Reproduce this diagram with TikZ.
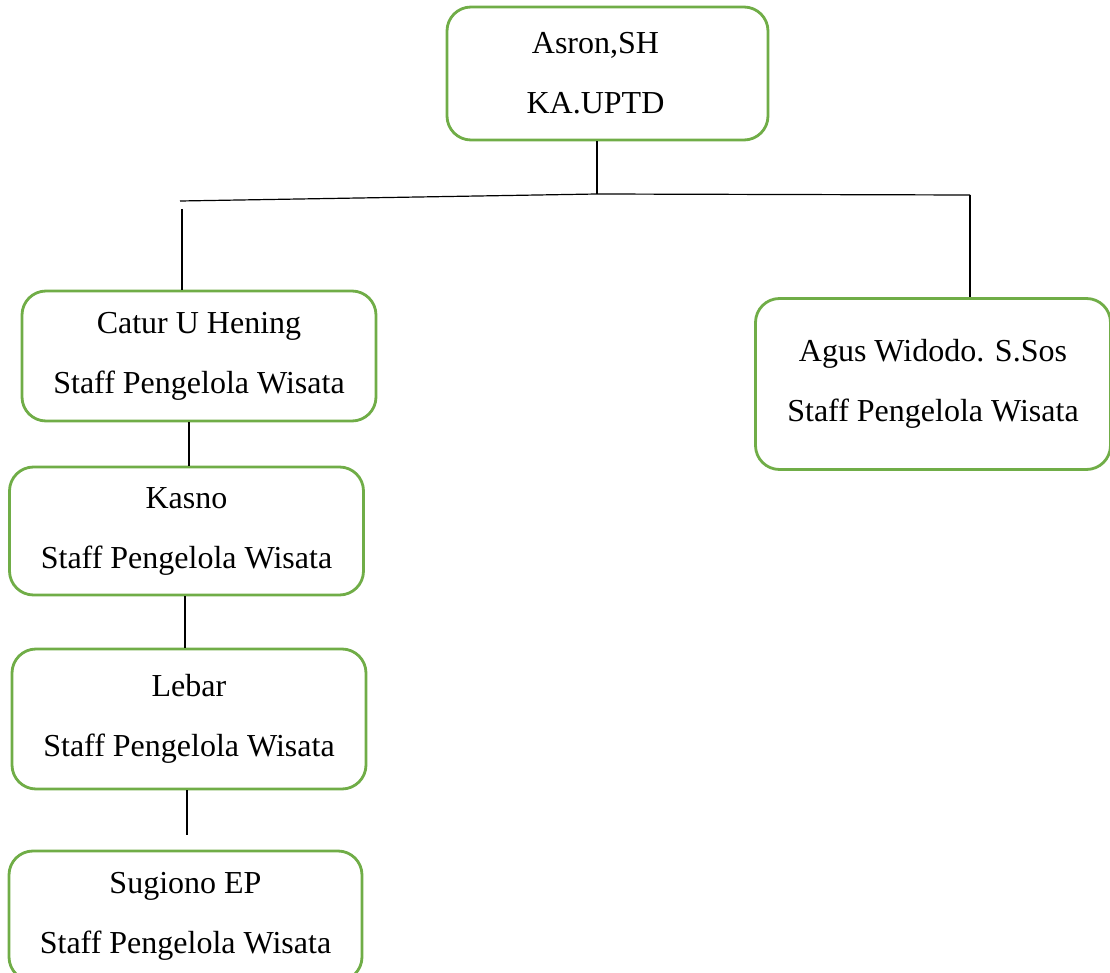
\documentclass[tikz,border=0pt]{standalone}
\usepackage{fontspec}
\setmainfont{Liberation Serif}
\definecolor{hijau}{HTML}{70AD47}
\begin{document}
\begin{tikzpicture}[x=.5pt, y=-.5pt,
	kotak/.style={draw=hijau, line width=1.4pt, rounded corners=12pt, align=center, inner sep=0pt, font=\fontsize{16}{30}\selectfont},
	garis/.style={line width=.6pt}]
\useasboundingbox (0,0) rectangle (1110,973);

\node [kotak, minimum width=160.5pt, minimum height=66.5pt] (kepala) at (607.5,73.5) {Asron,SH\hspace*{12pt}\\KA.UPTD\hspace*{12pt}};
\node [kotak, minimum width=177pt, minimum height=65pt] (catur) at (199,356) {Catur U Hening\\Staff Pengelola Wisata};
\node [kotak, minimum width=177.5pt, minimum height=85.5pt] (agus) at (933,384) {Agus Widodo. S.Sos\\Staff Pengelola Wisata};
\node [kotak, minimum width=177pt, minimum height=64pt] (kasno) at (186.5,531) {Kasno\\Staff Pengelola Wisata};
\node [kotak, minimum width=177pt, minimum height=70pt] (lebar) at (189,719) {Lebar\\Staff Pengelola Wisata};
\node [kotak, minimum width=176.5pt, minimum height=65pt] (sugiono) at (185.5,916) {Sugiono EP\\Staff Pengelola Wisata};

\coordinate (tengah) at (597,194);
\coordinate (kiri) at (180,201);
\coordinate (kanan) at (970,195);
\coordinate (kiribawah) at (182,209);

\draw [garis] (kepala.south -| tengah) -- (tengah);
\draw [garis] (kiri) -- (tengah) -- (kanan);
\draw [garis] (kiribawah) -- (kiribawah |- catur.north);
\draw [garis] (kanan) -- (kanan |- agus.north);
\draw [garis] (189,0 |- catur.south) -- (189,0 |- kasno.north);
\draw [garis] (185,0 |- kasno.south) -- (185,0 |- lebar.north);
\draw [garis] (187,0 |- lebar.south) -- ([yshift=7.5pt]sugiono.north -| 187,0);
	\end{tikzpicture}
\end{document}
